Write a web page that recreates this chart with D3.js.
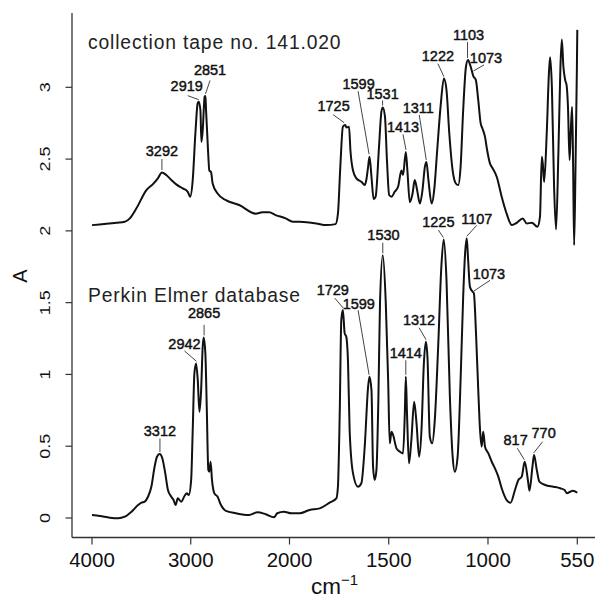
<!DOCTYPE html>
<html>
<head>
<meta charset="utf-8">
<script src="https://cdn.jsdelivr.net/npm/d3@7/dist/d3.min.js"></script>
<style>
  html, body { margin: 0; padding: 0; background: #fff; }
  svg text { font-family: "Liberation Sans", Arial, sans-serif; }
</style>
</head>
<body>
<svg id="chart" width="599" height="599"></svg>
<script>
// ---- data ----
var xTicks = [4000, 3000, 2000, 1500, 1000, 550];
var yTicks = [0, 0.5, 1, 1.5, 2, 2.5, 3];

// collection tape no. 141.020
var tapeWn = [4000, 3751, 3668, 3617, 3550, 3449, 3383, 3333, 3292, 3248, 3197, 3147, 3081, 3030, 3006,
  2980, 2953, 2930, 2919, 2902, 2892, 2879, 2859, 2851, 2845, 2825, 2812, 2795, 2778, 2728, 2644, 2510,
  2341, 2275, 2207, 2140, 2039, 1983, 1949, 1865, 1815, 1768, 1756, 1744, 1731, 1719, 1713, 1700, 1693,
  1680, 1663, 1638, 1621, 1613, 1604, 1597, 1587, 1576, 1566, 1549, 1537, 1530, 1519, 1509, 1498, 1486,
  1470, 1453, 1436, 1428, 1414, 1406, 1394, 1380, 1369, 1357, 1343, 1330, 1318, 1310, 1300, 1284, 1271,
  1256, 1239, 1222, 1209, 1195, 1178, 1162, 1150, 1138, 1125, 1111, 1101, 1087, 1074, 1061, 1049, 1037,
  1027, 1015, 1004, 990, 976, 956, 931, 906, 880, 855, 825, 805, 779, 751, 738, 729, 724, 717, 704, 693,
  687, 678, 667, 657, 645, 635, 628, 620, 611, 604, 597, 589, 582, 576, 571, 566, 559, 552, 550];
var tapeAbs = [2.04, 2.056, 2.063, 2.087, 2.157, 2.284, 2.326, 2.366, 2.407, 2.389, 2.354, 2.324, 2.296, 2.272, 2.238,
  2.354, 2.68, 2.888, 2.9, 2.84, 2.62, 2.7, 2.934, 2.94, 2.84, 2.56, 2.42, 2.41, 2.33, 2.26, 2.214, 2.18,
  2.12, 2.129, 2.129, 2.11, 2.087, 2.063, 2.063, 2.052, 2.04, 2.047, 2.12, 2.446, 2.725, 2.737, 2.72, 2.725, 2.56,
  2.42, 2.366, 2.342, 2.319, 2.354, 2.446, 2.516, 2.377, 2.22, 2.238, 2.586, 2.83, 2.86, 2.795, 2.493, 2.25, 2.238,
  2.272, 2.307, 2.42, 2.389, 2.55, 2.42, 2.2, 2.26, 2.354, 2.284, 2.19, 2.284, 2.446, 2.48, 2.354, 2.19, 2.284,
  2.56, 2.864, 3.062, 2.98, 2.68, 2.42, 2.33, 2.319, 2.446, 2.84, 3.143, 3.19, 3.143, 3.078, 3.05, 2.91, 2.75,
  2.71, 2.655, 2.56, 2.47, 2.435, 2.377, 2.238, 2.12, 2.04, 2.056, 2.087, 2.052, 2.056, 2.029, 2.1, 2.516, 2.47, 2.34, 2.68, 3.097,
  3.21, 3.0, 2.307, 2.01, 2.56, 3.143, 3.333, 3.143, 3.05, 3.015, 2.864, 2.493, 2.725, 2.864, 2.446, 1.9, 2.446, 3.143, 3.4];

// Perkin Elmer database
var refWn = [4000, 3919, 3819, 3735, 3668, 3600, 3534, 3500, 3466, 3433, 3399, 3366, 3342, 3315, 3288, 3258,
  3231, 3197, 3174, 3154, 3131, 3097, 3063, 3040, 3020, 2996, 2980, 2963, 2946, 2929, 2912, 2895, 2879,
  2869, 2852, 2838, 2822, 2812, 2799, 2785, 2761, 2728, 2694, 2644, 2543, 2409, 2325, 2241, 2157, 2124,
  2057, 1991, 1949, 1899, 1848, 1798, 1764, 1756, 1747, 1739, 1731, 1722, 1714, 1705, 1697, 1680, 1655,
  1638, 1621, 1604, 1597, 1587, 1579, 1571, 1562, 1552, 1544, 1530, 1515, 1503, 1495, 1486, 1478, 1461,
  1444, 1428, 1419, 1414, 1408, 1398, 1386, 1372, 1360, 1347, 1335, 1323, 1313, 1305, 1293, 1281, 1268,
  1251, 1235, 1223, 1209, 1192, 1178, 1167, 1153, 1138, 1125, 1115, 1107, 1100, 1091, 1077, 1071, 1061,
  1049, 1040, 1032, 1024, 1015, 998, 981, 965, 948, 931, 906, 886, 864, 847, 830, 815, 799, 791, 776, 768,
  754, 741, 712, 670, 636, 614, 602, 586, 572, 550];
var refAbs = [0.021, 0.014, 0.002, -0.002, 0.009, 0.044, 0.09, 0.107, 0.114, 0.148, 0.218, 0.357, 0.427, 0.446, 0.416, 0.311,
  0.195, 0.148, 0.125, 0.09, 0.137, 0.114, 0.153, 0.172, 0.16, 0.265, 0.613, 1.008, 1.077, 0.96, 0.74, 0.891, 1.193,
  1.258, 1.147, 0.775, 0.334, 0.322, 0.392, 0.265, 0.172, 0.148, 0.09, 0.049, 0.033, 0.021, 0.04, 0.026, 0.005, 0.033,
  0.044, 0.033, 0.033, 0.056, 0.067, 0.107, 0.137, 0.218, 0.729, 1.379, 1.448, 1.286, 1.263, 1.077, 0.613, 0.311, 0.218,
  0.242, 0.497, 0.914, 0.984, 0.891, 0.357, 0.265, 0.334, 0.845, 1.5, 1.83, 1.5, 0.961, 0.52, 0.601, 0.578, 0.485,
  0.462, 0.45, 0.729, 0.984, 0.729, 0.381, 0.543, 0.81, 0.659, 0.427, 0.613, 1.077, 1.228, 1.123, 0.566, 0.52, 0.682,
  1.193, 1.75, 1.94, 1.657, 0.845, 0.427, 0.322, 0.427, 0.961, 1.541, 1.85, 1.948, 1.797, 1.61, 1.576, 1.565, 1.31,
  0.891, 0.613, 0.497, 0.601, 0.497, 0.45, 0.392, 0.346, 0.288, 0.207, 0.125, 0.107, 0.195, 0.265, 0.288, 0.392, 0.265, 0.19, 0.357, 0.439,
  0.334, 0.253, 0.23, 0.218, 0.207, 0.195, 0.172, 0.183, 0.19, 0.176];

// peak annotations: label, wavenumber, absorbance at the peak top
var tapePeaks = [["3292", 3292, 2.41], ["2919", 2919, 2.90], ["2851", 2851, 2.94], ["1725", 1725, 2.74],
  ["1599", 1599, 2.52], ["1531", 1531, 2.86], ["1413", 1413, 2.55], ["1311", 1311, 2.48],
  ["1222", 1222, 3.06], ["1103", 1103, 3.19], ["1073", 1073, 3.10]];
var refPeaks = [["3312", 3312, 0.446], ["2942", 2942, 1.077], ["2865", 2865, 1.258], ["1729", 1729, 1.448],
  ["1599", 1599, 0.984], ["1530", 1530, 1.83], ["1414", 1414, 0.984], ["1312", 1312, 1.228],
  ["1225", 1225, 1.94], ["1107", 1107, 1.948], ["1073", 1073, 1.565], ["817", 817, 0.392], ["770", 770, 0.439]];

// leader / label offsets in px: [leader dx, leader dy, text dx, text dy]
var tapeLayout = [[0, -11, 0, -3.5], [-11, -4, -1, -5], [4.6, -13.5, 0, -5.3], [-11, -8, 0.5, -3.3],
  [-11, -63, 0.5, -2.7], [0, -5, 0, -1.5], [-3, -15.5, 0, -2], [-7, -45, -1, -2.3],
  [-6, -13, 0, -2.6], [0, -16, 1, -1.7], [10.5, -6, 2, -2.3]];
var refLayout = [[0, -13.5, 0, -2.3], [-12, -10.5, 0, -1.7], [0, -10.5, 0, -6.7], [-8.5, -10, -2, -3.3],
  [-11, -64.5, 0.7, -1], [0, -10.5, 0.7, -2.7], [0, -14.5, 0, -2.7], [-7, -12, 0, -2.7],
  [-5, -7.5, 0, -3.3], [10, -11, 0, -1.7], [16.5, -11, -1, -1.7], [-7, -11.5, -1.7, -3.3], [9, -11.3, 1, -3.3]];

// ---- drawing ----
var svg = d3.select('#chart');

// the fingerprint region below 2000 is expanded twice, as on the instrument printout
var x = d3.scaleLinear().domain([4000, 2000, 550]).range([92, 289.5, 577.3]);
var y = d3.scaleLinear().domain([0, 3]).range([518, 87.3]);

var axisColor = '#333';
var left = 72, bottom = 537.5;

// axes (L-shaped box)
svg.append('line').attr('x1', left).attr('x2', left).attr('y1', 13).attr('y2', bottom)
	.attr('stroke', axisColor).attr('stroke-width', 1.3);
svg.append('line').attr('x1', left).attr('x2', 595).attr('y1', bottom).attr('y2', bottom)
	.attr('stroke', axisColor).attr('stroke-width', 1.3);

var xAxis = svg.append('g');
xTicks.forEach(function (t) {
	xAxis.append('line').attr('x1', x(t)).attr('x2', x(t)).attr('y1', bottom).attr('y2', bottom + 7)
		.attr('stroke', axisColor).attr('stroke-width', 1.2);
	xAxis.append('text').attr('x', x(t)).attr('y', 567).attr('text-anchor', 'middle')
		.attr('font-size', 20.5).attr('fill', '#111').text(t);
});

var yAxis = svg.append('g');
yTicks.forEach(function (t) {
	yAxis.append('line').attr('x1', left - 6.5).attr('x2', left).attr('y1', y(t)).attr('y2', y(t))
		.attr('stroke', axisColor).attr('stroke-width', 1.2);
	yAxis.append('text')
		.attr('transform', 'translate(50,' + y(t) + ') rotate(-90) scale(1,0.82)')
		.attr('text-anchor', 'middle').attr('font-size', 18).attr('fill', '#111').text(t);
});

svg.append('text').attr('transform', 'translate(26.5,276) rotate(-90)')
	.attr('text-anchor', 'middle').attr('font-size', 20).attr('fill', '#111').text('A');

var xlab = svg.append('text').attr('x', 311).attr('y', 594).attr('font-size', 22.5).attr('fill', '#111');
xlab.append('tspan').text('cm');
xlab.append('tspan').attr('dy', -9).attr('font-size', 15).text('\u22121');

// spectra
var line = d3.line()
	.x(function (d) { return x(d[0]); })
	.y(function (d) { return y(d[1]); })
	.curve(d3.curveMonotoneX);

[[tapeWn, tapeAbs], [refWn, refAbs]].forEach(function (s) {
	svg.append('path')
		.datum(d3.zip(s[0], s[1]))
		.attr('d', line)
		.attr('fill', 'none')
		.attr('stroke', '#111')
		.attr('stroke-width', 2)
		.attr('stroke-linejoin', 'round');
});

// titles of the two spectra
svg.append('text').attr('x', 88).attr('y', 49.3).attr('font-size', 19.3).attr('letter-spacing', 0.85)
	.attr('fill', '#222').text('collection tape no. 141.020');
svg.append('text').attr('x', 88).attr('y', 301.7).attr('font-size', 19.3).attr('letter-spacing', 0.85)
	.attr('fill', '#222').text('Perkin Elmer database');

// peak labels with leader lines
function drawPeaks(peaks, layout) {
	var g = svg.append('g');
	peaks.forEach(function (p, i) {
		var lay = layout[i];
		var ex = x(p[1]), ey = y(p[2]) - 2;
		var sx = ex + lay[0], sy = ey + lay[1];
		g.append('line').attr('x1', sx).attr('y1', sy).attr('x2', ex).attr('y2', ey)
			.attr('stroke', '#444').attr('stroke-width', 1);
		g.append('text').attr('x', sx + lay[2]).attr('y', sy + lay[3])
			.attr('text-anchor', 'middle').attr('font-size', 14.5)
			.attr('fill', '#111').attr('stroke', '#111').attr('stroke-width', 0.45)
			.text(p[0]);
	});
}
drawPeaks(tapePeaks, tapeLayout);
drawPeaks(refPeaks, refLayout);
</script>
</body>
</html>
